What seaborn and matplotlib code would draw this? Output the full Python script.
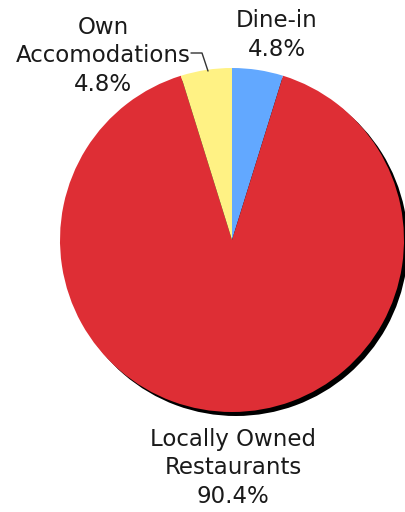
import matplotlib
matplotlib.use("Agg")
import matplotlib.pyplot as plt
import seaborn as sns

categories = ["Dine-in", "Locally Owned\nRestaurants", "Own\nAccomodations"]
values = [4.8, 90.4, 4.8]
colors = ["#62A8FF", "#DE2E35", "#FFF284"]

sns.set_theme(style="white")
plt.rcParams['font.family'] = ['DejaVu Sans']

fig = plt.figure(figsize=(4.05, 5.12), dpi=100)
ax = fig.add_axes([0, 0, 1, 1])
ax.set_xlim(0, 405)
ax.set_ylim(0, 512)
ax.set_aspect('equal')
ax.axis('off')

cx, cy, r = 232, 272, 172
# shadow
ax.pie(values, colors=["black"] * len(values), startangle=90, counterclock=False,
       center=(cx + 4, cy - 4), radius=r, wedgeprops=dict(linewidth=0))
ax.pie(values, colors=colors, startangle=90, counterclock=False,
       center=(cx, cy), radius=r, wedgeprops=dict(linewidth=0))
ax.set_xlim(0, 405)
ax.set_ylim(0, 512)

fs = 16.5
ls = 1.3
lbl = [f"{c}\n{v:.1f}%" for c, v in zip(categories, values)]
ax.text(277, 512 - 35, lbl[0], ha='center', va='center', fontsize=fs, color='#1a1a1a', linespacing=ls)
ax.text(233, 512 - 468, lbl[1], ha='center', va='center', fontsize=fs, color='#1a1a1a', linespacing=ls)
ax.text(103, 512 - 56, lbl[2], ha='center', va='center', fontsize=fs, color='#1a1a1a', linespacing=ls)
ax.plot([191, 202, 208], [512 - 53, 512 - 53, 512 - 71], color='#333333', lw=1)

fig.savefig("out.png", dpi=100)
